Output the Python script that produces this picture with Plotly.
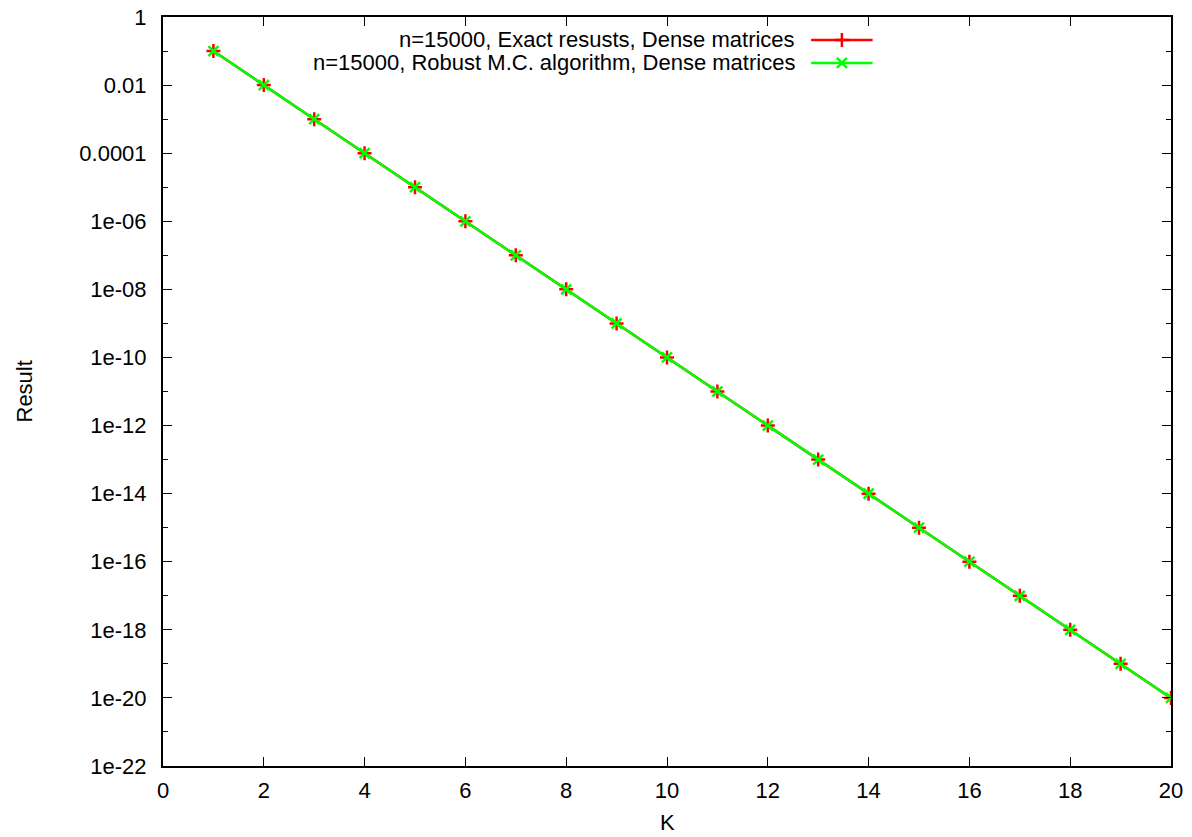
import plotly.graph_objects as go

K = list(range(1, 21))
exact = [10.0 ** (-k) for k in K]
robust = [10.0 ** (-k) for k in K]
series_names = ["n=15000, Exact resusts, Dense matrices",
                "n=15000, Robust M.C. algorithm, Dense matrices"]
x_ticks = list(range(0, 21, 2))
y_major_exp = list(range(-22, 1, 2))
y_major_labels = ["1e-22", "1e-20", "1e-18", "1e-16", "1e-14", "1e-12", "1e-10",
                  "1e-08", "1e-06", "0.0001", "0.01", "1"]
y_minor_exp = list(range(-21, 0, 2))

FONT = "Liberation Sans, Arial, sans-serif"
FS = 22
RED = "#ff0000"
GREEN = "#00ff00"

fig = go.Figure()
fig.add_trace(go.Scatter(x=K, y=exact, mode="lines+markers",
                         line=dict(color=RED, width=2.5),
                         marker=dict(symbol="cross-thin", size=10,
                                     line=dict(color=RED, width=2.5)),
                         showlegend=False))
fig.add_trace(go.Scatter(x=K, y=robust, mode="lines+markers",
                         line=dict(color=GREEN, width=2.5),
                         marker=dict(symbol="x-thin", size=10,
                                     line=dict(color=GREEN, width=2.5)),
                         showlegend=False))

# manual gnuplot-style legend (text left, sample right) on an overlay axis
leg_rows = [0.9693, 0.9386]
leg_x0, leg_x1, leg_text_x = 0.643, 0.704, 0.629
for name, col, sym, yy in zip(series_names, [RED, GREEN], ["cross-thin", "x-thin"], leg_rows):
    fig.add_trace(go.Scatter(x=[leg_x0, leg_x1], y=[yy, yy], mode="lines",
                             line=dict(color=col, width=2.5),
                             xaxis="x2", yaxis="y2", showlegend=False, hoverinfo="skip"))
    fig.add_trace(go.Scatter(x=[(leg_x0 + leg_x1) / 2], y=[yy], mode="markers",
                             marker=dict(symbol=sym, size=10, line=dict(color=col, width=2.5)),
                             xaxis="x2", yaxis="y2", showlegend=False, hoverinfo="skip"))
    fig.add_annotation(x=leg_text_x, y=yy, xref="x2", yref="y2", text=name,
                       showarrow=False, xanchor="right", yanchor="middle",
                       font=dict(family=FONT, size=FS, color="black"))

# axis titles
fig.add_annotation(x=0, y=0.5, xref="paper", yref="paper", text="Result",
                   textangle=-90, showarrow=False, xanchor="center", yanchor="middle",
                   xshift=-139, font=dict(family=FONT, size=FS, color="black"))
fig.add_annotation(x=0.5, y=0, xref="paper", yref="paper", text="K",
                   showarrow=False, xanchor="center", yanchor="middle",
                   yshift=-56, font=dict(family=FONT, size=FS, color="black"))

axis_common = dict(showline=True, linecolor="black", linewidth=2, mirror="ticks",
                   ticks="inside", ticklen=9, tickwidth=1, tickcolor="black",
                   showgrid=False, zeroline=False, automargin=False,
                   tickfont=dict(family=FONT, size=FS, color="black"))

fig.update_layout(
    width=1192, height=837,
    margin=dict(l=163, r=21, t=17, b=71),
    paper_bgcolor="white", plot_bgcolor="white",
    font=dict(family=FONT, size=FS, color="black"),
    xaxis=dict(range=[0, 20], tickvals=x_ticks, ticklabelstandoff=4, **axis_common),
    yaxis=dict(type="log", range=[-22, 0],
               tickvals=[10.0 ** e for e in y_major_exp], ticktext=y_major_labels,
               ticklabelstandoff=10,
               minor=dict(tickvals=[10.0 ** e for e in y_minor_exp], ticks="inside",
                          ticklen=5, tickwidth=1, tickcolor="black", showgrid=False),
               **axis_common),
    xaxis2=dict(overlaying="x", range=[0, 1], visible=False),
    yaxis2=dict(overlaying="y", range=[0, 1], visible=False),
)

fig.write_html("out.html")
